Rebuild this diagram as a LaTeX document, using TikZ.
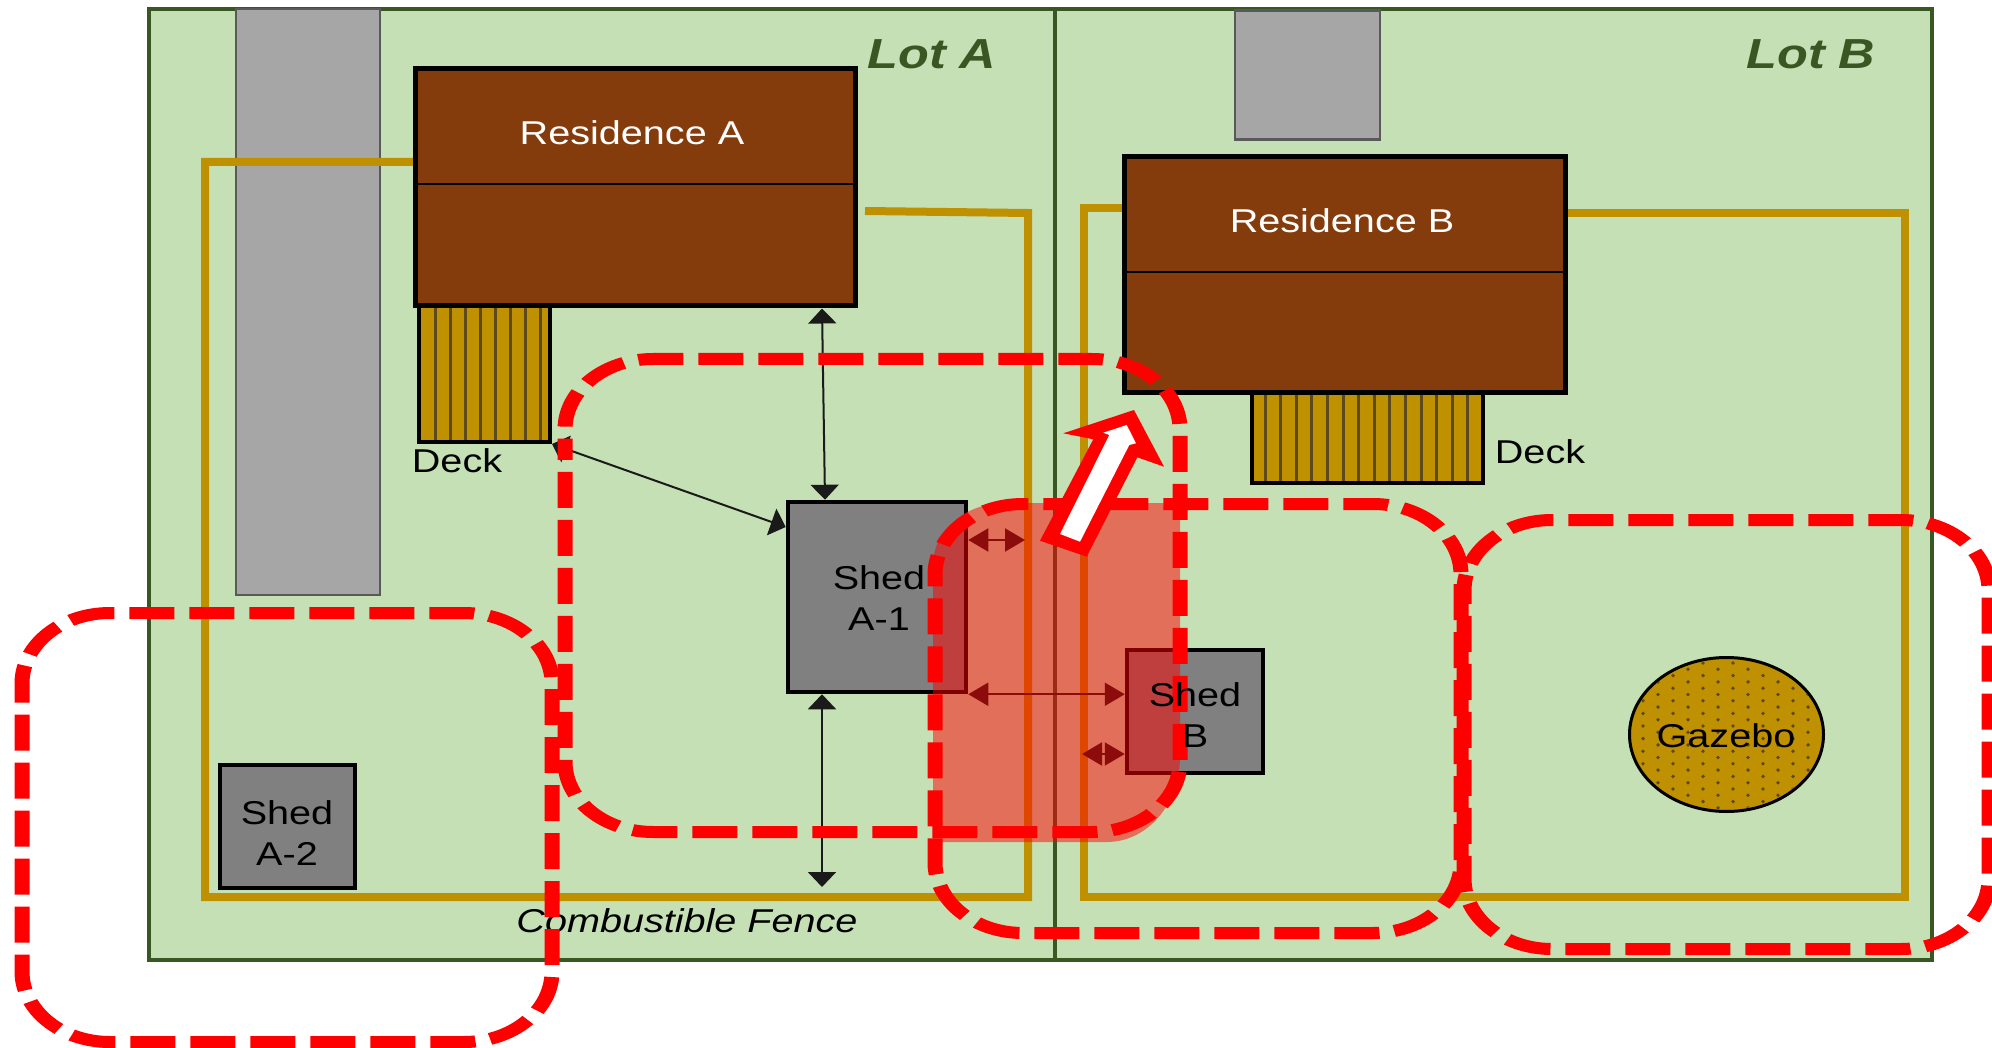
\documentclass[tikz,border=0pt]{standalone}
\usepackage{fontspec}
\setmainfont[FakeStretch=1.2]{Liberation Sans}
\usetikzlibrary{arrows.meta,shapes.geometric}
\definecolor{lotgreen}{HTML}{C5E0B4}
\definecolor{lotline}{HTML}{385723}
\definecolor{pavegray}{HTML}{A6A6A6}
\definecolor{paveline}{HTML}{595959}
\definecolor{roofbrown}{HTML}{843C0C}
\definecolor{fencegold}{HTML}{BF9000}
\definecolor{slatdark}{HTML}{5C4A1C}
\definecolor{shedgray}{HTML}{808080}
\definecolor{tipdark}{HTML}{1A1A1A}
\begin{document}
\begin{tikzpicture}[
  x=1pt, y=-1pt,
  lot/.style={draw=lotline, fill=lotgreen, line width=4.5pt, minimum height=951pt,
              inner sep=0pt, outer sep=0pt},
  pave/.style={draw=paveline, fill=pavegray, line width=2.5pt, inner sep=0pt},
  house/.style={draw=black, fill=roofbrown, line width=5pt, inner sep=0pt},
  deckbox/.style={draw=black, fill=fencegold, line width=4pt, inner sep=0pt},
  shedbox/.style={draw=black, fill=shedgray, line width=4.5pt, inner sep=0pt},
  fence/.style={draw=fencegold, line width=8pt},
  slat/.style={draw=slatdark, line width=3pt},
  gap/.style={draw=tipdark, line width=2pt,
              {Triangle[length=15pt,width=28pt]}-{Triangle[length=15pt,width=28pt]}},
  gapshort/.style={draw=tipdark, line width=2pt,
              {Triangle[length=20pt,width=23pt]}-{Triangle[length=20pt,width=23pt]}},
  lbl/.style={font=\fontsize{33}{41}\selectfont, align=center, inner sep=0pt},
  lotlbl/.style={font=\fontsize{42}{48}\selectfont\bfseries\itshape, text=lotline, inner sep=0pt},
  zone/.style={draw=red, line width=15pt, dash pattern=on 45pt off 15pt, rounded corners=88pt},
]
\useasboundingbox (0,0) rectangle (1992,1048);

% ---- Lots --------------------------------------------------------------------
\node[lot, minimum width=906pt] (lotA) at (602,484.5) {};
\node[lot, minimum width=877pt] (lotB) at (1493.5,484.5) {};

% ---- Driveways ---------------------------------------------------------------
\node[pave, minimum width=144pt, minimum height=586pt] (driveA) at (308,302) {};
\node[pave, minimum width=145pt, minimum height=129pt] (driveB) at (1307.5,75) {};

% ---- Fences ------------------------------------------------------------------
\draw[fence] (415,162) -- (205,162) -- (205,897) -- (1028,897) -- (1028,213) -- (865,211);
\draw[fence] (1124,208) -- (1084,208) -- (1084,897) -- (1905,897) -- (1905,213) -- (1565,213);

% ---- Residences --------------------------------------------------------------
\node[house, minimum width=440pt, minimum height=237pt] (resA) at (635,187.5) {};
\node[house, minimum width=441pt, minimum height=236pt] (resB) at (1344.5,275) {};
\coordinate (ridgeA) at (415,184);
\coordinate (ridgeB) at (1124,272);
\draw[line width=2pt] (ridgeA) -- (ridgeA -| resA.east);
\draw[line width=2pt] (ridgeB) -- (ridgeB -| resB.east);

% ---- Decks -------------------------------------------------------------------
\node[deckbox, minimum width=131pt, minimum height=136pt] (deckA) at (484.5,374) {};
\node[deckbox, minimum width=231pt, minimum height=90pt] (deckB) at (1367.5,438) {};
\foreach \sx in {0,...,7}
  \draw[slat] ({435+15.1*\sx},308) -- ({435+15.1*\sx},440);
\foreach \sx in {0,...,13}
  \draw[slat] ({1265+15.6*\sx},395) -- ({1265+15.6*\sx},481);

% ---- Gazebo ------------------------------------------------------------------
\node[ellipse, draw=black, fill=fencegold, line width=3pt, inner sep=0pt,
      minimum width=194pt, minimum height=154pt] (gazebo) at (1726.5,734.5) {};
\begin{scope}
  \clip (gazebo.center) ellipse [x radius=95, y radius=75];
  \foreach \dy in {0,...,24}
    \foreach \dx in {0,...,7}
      \fill[slatdark] ({1613+30*\dx+15*mod(\dy,2)},{663+6.3*\dy}) circle [radius=1.9];
\end{scope}

% ---- Sheds -------------------------------------------------------------------
\node[shedbox, minimum width=178pt, minimum height=190pt] (shedAi) at (877,597) {};
\node[shedbox, minimum width=135pt, minimum height=123pt] (shedAii) at (287.5,826.5) {};
\node[shedbox, minimum width=136pt, minimum height=123pt] (shedB) at (1195,711.5) {};

% ---- Separation arrows -------------------------------------------------------
\coordinate (fenceS) at (822,887);
\coordinate (fenceE) at (1025,540);
\coordinate (fenceW) at (1082,754);
\draw[gap] ([xshift=187pt]resA.south) -- ([xshift=-52pt]shedAi.north);
\draw[gap] (deckA.south east) -- ([yshift=70pt]shedAi.west);
\draw[gap] ([xshift=-55pt]shedAi.south) -- (fenceS);
\draw[gapshort] (shedAi.east |- fenceE) -- (fenceE);
\draw[gapshort] (shedAi.south east) -- (shedB.west |- shedAi.south east);
\draw[gapshort] (fenceW) -- (shedB.west |- fenceW);

% ---- Overlap of the two zones ------------------------------------------------
\fill[red, opacity=.5] (933,565) arc[start angle=180, end angle=270, x radius=72, y radius=62]
  -- (1180,503) -- (1180,757) arc[start angle=0, end angle=90, x radius=73, y radius=85]
  -- (933,842) -- cycle;

% ---- Labels ------------------------------------------------------------------
\node[lotlbl] (lotAlbl) at (932,54) {Lot A};
\node[lotlbl] (lotBlbl) at (1811,54) {Lot B};
\node[lbl, text=white] (resAlbl) at (632,133) {Residence A};
\node[lbl, text=white] (resBlbl) at (1342,221) {Residence B};
\node[lbl] (deckAlbl) at (457,461) {Deck};
\node[lbl] (deckBlbl) at (1540,452) {Deck};
\node[lbl] (shedAilbl) at (879,598) {Shed\\A-1};
\node[lbl] (shedAiilbl) at (287,833) {Shed\\A-2};
\node[lbl] (gazlbl) at (1726,736) {Gazebo};
\node[lbl, font=\fontsize{33}{41}\selectfont\itshape] (fencelbl) at (687,921) {Combustible Fence};

% ---- Dashed zones ------------------------------------------------------------
\begin{scope}[transform canvas={yscale=.8}, y=-1.25pt]
  \foreach \zl/\zt/\zr/\zb/\zd in {22/613/552/1042/11, 565/359/1180/832/45, 935/504/1461/933/10, 1464/520/1989/949/14}
    \draw[zone, dash phase=\zd pt] (\zl,\zt+150) -- (\zl,\zt) -- (\zr,\zt) -- (\zr,\zb) -- (\zl,\zb) -- cycle;
\end{scope}
\node[lbl] (shedBlbl) at (1195,715) {Shed\\B};

% ---- Direction arrow ---------------------------------------------------------
\fill[red] (1040,540.7) -- (1086.7,556.7) -- (1137.3,457.3) -- (1164,466.7) -- (1134,410)
  -- (1063.3,433.3) -- (1093.3,439.3) -- cycle;
\fill[white] (1060,534) -- (1080,541.7) -- (1129.3,445) -- (1136,443.3) -- (1126.7,425)
  -- (1103.3,432.7) -- (1109.3,435) -- cycle;

\end{tikzpicture}
\end{document}
